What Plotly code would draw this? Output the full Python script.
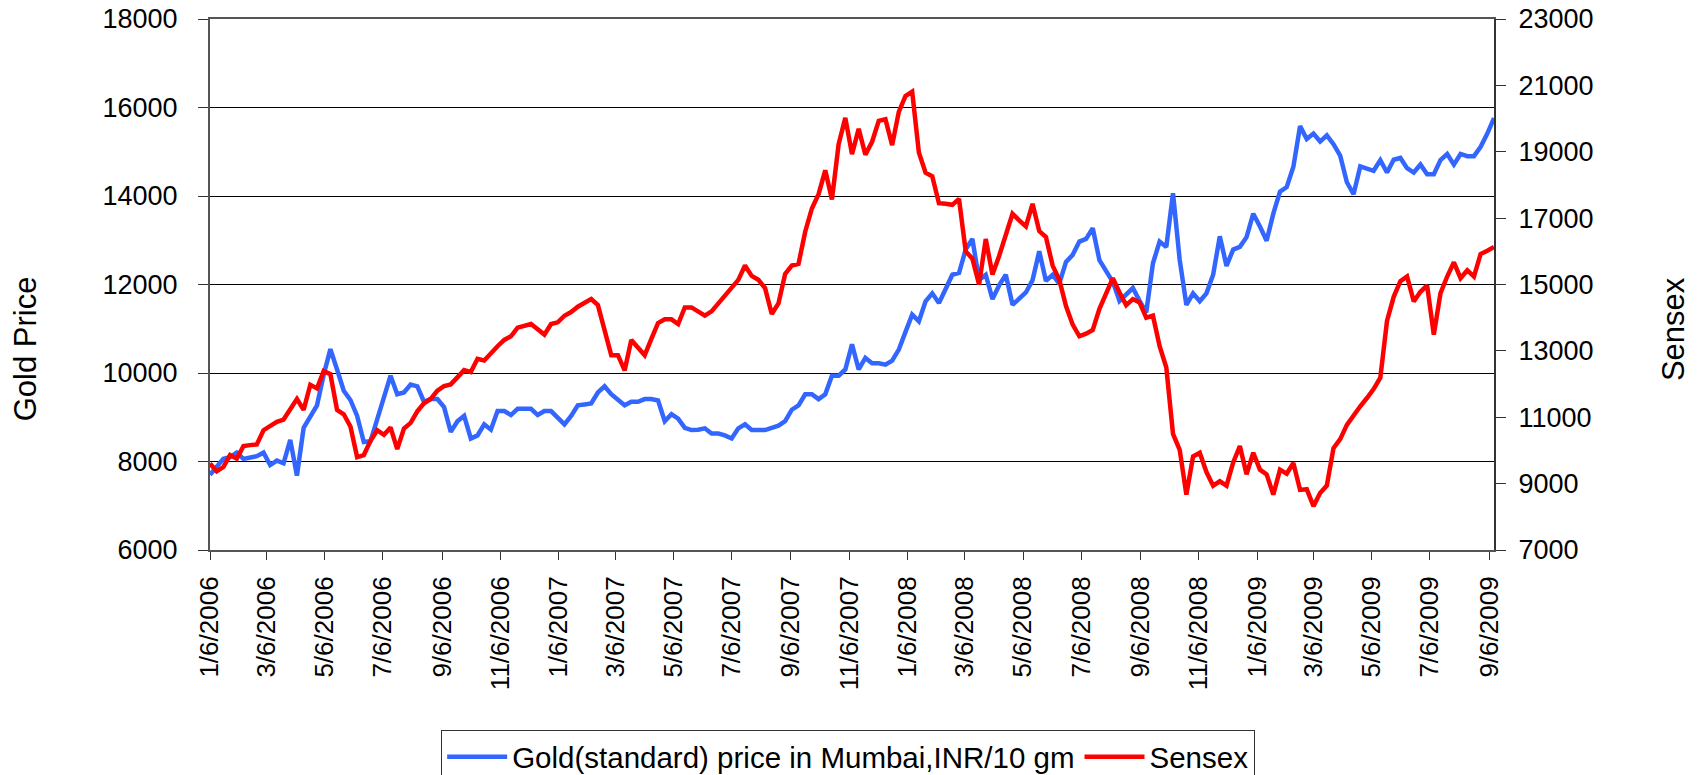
import pandas as pd
import plotly.graph_objects as go

# Weekly observations starting 6 Jan 2006
start_date = "2006-01-06"

gold = [
    7700, 7900, 8060, 8100, 8200, 8060, 8080, 8120, 8200, 7920, 8020, 7960, 8490, 7680, 8760, 9030, 9270,
    9960, 10540, 10080, 9600, 9390, 9030, 8440, 8460, 8950, 9430, 9940, 9520, 9560, 9740, 9700, 9350, 9410,
    9410, 9230, 8670, 8910, 9030, 8520, 8590, 8840, 8720, 9140, 9140, 9050, 9190, 9190, 9190, 9050, 9140,
    9140, 8990, 8840, 9030, 9270, 9290, 9310, 9560, 9700, 9520, 9410, 9270, 9350,
    9350, 9410, 9410, 9380, 8910, 9070, 8970, 8760, 8710, 8720, 8750, 8630, 8630, 8590, 8520, 8750, 8840,
    8710, 8710, 8710, 8760, 8810, 8910, 9170, 9270, 9520, 9520, 9410, 9520, 9940, 9940, 10080, 10650, 10080, 10340,
    10220, 10220, 10190, 10280, 10530, 10930, 11320, 11170, 11620, 11800, 11580, 11900, 12220, 12260, 12790,
    13030, 12100, 12220, 11670, 11980, 12220, 11540, 11670, 11820, 12100, 12750, 12080, 12220, 12020, 12510,
    12670, 12970, 13030,
    13270, 12550, 12300, 12060, 11630, 11780, 11920, 11630, 11370, 12480, 12970, 12850, 14060, 12560, 11540,
    11800, 11620, 11800, 12220, 13090, 12420, 12790, 12850, 13070, 13600, 13310, 12990, 13600, 14100, 14200,
    14660, 15580, 15290,
    15410, 15230, 15370, 15170, 14910, 14310, 14040, 14670, 14620, 14570, 14810, 14530, 14820, 14860, 14630,
    14530, 14710, 14490, 14490, 14810, 14950, 14710, 14950, 14900, 14900, 15110, 15410, 15760,
]

sensex = [
    9610, 9370, 9500, 9860, 9750, 10130, 10160, 10180, 10610, 10740, 10860, 10930, 11260, 11550, 11220, 11980,
    11870, 12390, 12300, 11220, 11090, 10720, 9800, 9860, 10290, 10610, 10470, 10690, 10040, 10660, 10830,
    11180, 11420, 11550,
    11800, 11940, 11990, 12230, 12420, 12360, 12760, 12710, 12950, 13140, 13330, 13440, 13700, 13760, 13810,
    13650, 13490, 13810, 13860, 14060, 14170, 14330, 14460, 14560, 14380, 13680, 12870, 12870, 12410, 13330,
    13090, 12870, 13360, 13840, 13950, 13950, 13810, 14310, 14310, 14190, 14060, 14190, 14430, 14620, 14870,
    15140, 15570, 15260, 15140, 14890, 14110, 14430, 15320, 15570, 15620, 16590, 17290, 17720, 18440, 17560,
    19230, 20020, 18930, 19690, 18910,
    19300, 19930, 19980, 19200, 20200, 20680, 20810, 18980, 18370, 18260, 17450, 17430, 17400, 17580, 16000,
    15780, 15000, 16370, 15300, 15860, 16500, 17130, 16930, 16750, 17430, 16610, 16430, 15570, 15140, 14350,
    13790, 13440, 13520,
    13630, 14270, 14730, 15190, 14760, 14380, 14560, 14460, 14000, 14060, 13140, 12500, 10500, 10020, 8670,
    9820, 9930, 9350, 8940, 9070, 8940, 9640, 10130, 9280, 9930, 9420, 9280, 8670, 9420, 9300, 9620, 8810, 8830,
    8320, 8720, 8940, 10070, 10340, 10770, 11070, 11330, 11580, 11850, 12190, 13900, 14630, 15100, 15240,
    14490, 14780, 14970, 13490, 14740, 15240, 15670, 15190, 15430, 15240, 15920, 16020, 16130,
]

weeks = pd.date_range(start=start_date, periods=len(gold), freq="7D")

# axis labels on the 6th of every other month
tick_dates = pd.date_range("2006-01-01", "2009-09-01", freq="2MS") + pd.Timedelta(days=5)
tick_labels = [f"{d.month}/{d.day}/{d.year}" for d in tick_dates]

gold_name = "Gold(standard) price in Mumbai,INR/10 gm"
sensex_name = "Sensex"

FONT = "Liberation Sans, Arial, sans-serif"

fig = go.Figure()
fig.add_trace(go.Scatter(x=weeks, y=gold, name=gold_name, mode="lines",
                         line=dict(color="#3366FF", width=4.5), yaxis="y"))
fig.add_trace(go.Scatter(x=weeks, y=sensex, name=sensex_name, mode="lines",
                         line=dict(color="#FF0000", width=4.5), yaxis="y2"))

fig.update_layout(
    width=1699, height=775, autosize=False,
    margin=dict(l=210, r=205, t=19, b=225, autoexpand=False),
    paper_bgcolor="white", plot_bgcolor="white",
    font=dict(family=FONT, color="black"),
    showlegend=True,
    legend=dict(orientation="h", x=0.497, xanchor="center", y=-0.339, yanchor="top",
                bordercolor="#333333", borderwidth=1, font=dict(size=29.5, family=FONT),
                itemwidth=60),
    xaxis=dict(type="date", range=[weeks[0], weeks[-1]], tickmode="array",
               tickvals=list(tick_dates), ticktext=tick_labels, tickangle=-90,
               tickfont=dict(size=26, family=FONT), ticks="outside", ticklen=8,
               tickcolor="#333333", showline=True, linecolor="#555555", linewidth=2,
               mirror=True, showgrid=False, zeroline=False, ticklabelstandoff=6,
               ticklabeloverflow="allow"),
    yaxis=dict(range=[6000, 18000], tickmode="linear", tick0=6000, dtick=2000,
               tickformat="d", ticklabeloverflow="allow",
               tickfont=dict(size=27, family=FONT), ticks="outside", ticklen=10,
               tickcolor="#333333", showline=True, linecolor="#555555", linewidth=2,
               showgrid=True, gridcolor="#000000", gridwidth=1, zeroline=False,
               ticklabelstandoff=15),
    yaxis2=dict(range=[7000, 23000], tickmode="linear", tick0=7000, dtick=2000,
                tickformat="d", overlaying="y", side="right", ticklabeloverflow="allow",
                tickfont=dict(size=27, family=FONT), ticks="outside", ticklen=10,
                tickcolor="#333333", showline=True, linecolor="#333333", linewidth=2,
                showgrid=False, zeroline=False, ticklabelstandoff=7),
    yaxis3=dict(range=[7000, 23000], tickmode="linear", tick0=7000, dtick=2000,
                overlaying="y", side="right", anchor="x",
                ticks="inside", ticklen=10, tickcolor="#333333",
                showticklabels=False, showline=False, showgrid=False, zeroline=False),
    annotations=[
        dict(text="Gold Price", xref="paper", yref="paper", x=-0.1437, y=0.379,
             xanchor="center", yanchor="middle", textangle=-90, showarrow=False,
             font=dict(size=31, family=FONT)),
        dict(text="Sensex", xref="paper", yref="paper", x=1.1394, y=0.416,
             xanchor="center", yanchor="middle", textangle=-90, showarrow=False,
             font=dict(size=31, family=FONT)),
    ],
)

# remove the browser's default 8px page margin so the figure fills the window exactly
fig.write_html("out.html", config={"displayModeBar": False},
               post_script="document.body.style.margin='0';")
